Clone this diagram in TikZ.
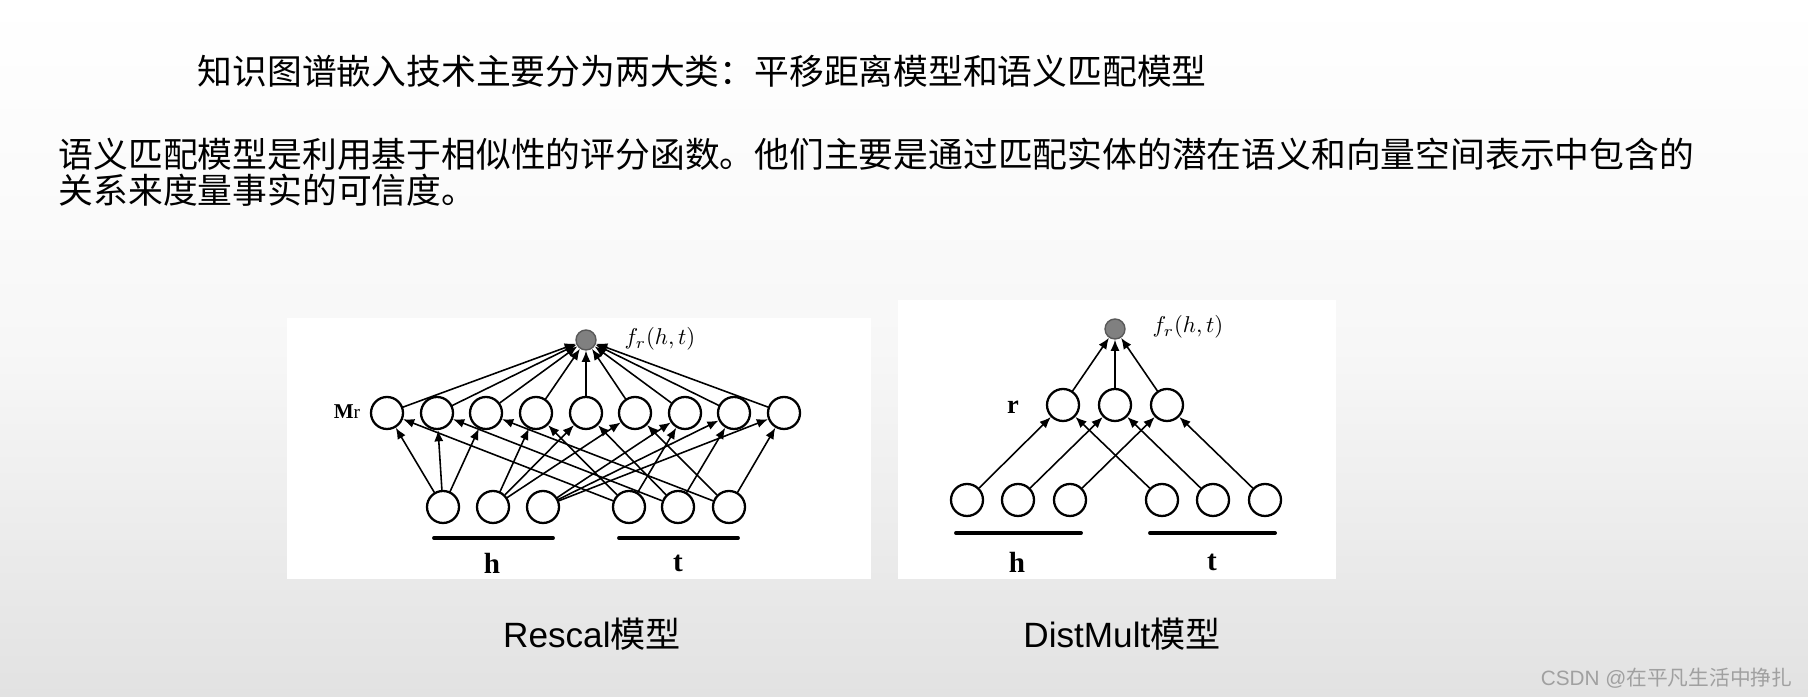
\RequirePackage{fix-cm}
\documentclass[tikz,border=0pt]{standalone}
\usepackage[no-math]{fontspec}
\setmainfont{Liberation Sans}
\newfontfamily\cjk{Noto Sans CJK SC}
\newfontfamily\tnr{Liberation Serif}
\usetikzlibrary{arrows.meta}
\definecolor{bgbot}{RGB}{226,226,226}
\definecolor{bgmid}{RGB}{247,247,247}
\definecolor{marks}{RGB}{160,160,160}
\newcommand{\score}{\scalebox{0.65}{$f_r(h,t)$}}
\tikzset{
	unit/.style={circle, draw, line width=0.65pt, fill=white, minimum size=3.2mm, inner sep=0pt},
	score/.style={circle, draw=black!65, fill=black!50, line width=0.4pt, minimum size=2mm, inner sep=0pt},
	link/.style={->, line width=0.45pt},
	bar/.style={line width=1.1pt},
	txt/.style={inner sep=0pt, font=\cjk\fontsize{9.9}{10.25}\selectfont},
	modelcap/.style={inner sep=0pt, font=\fontsize{10}{12}\selectfont},
	lab/.style={inner sep=0pt, font=\tnr\bfseries\fontsize{8.3}{10}\selectfont},
	fun/.style={anchor=west, inner sep=0pt},
}
\begin{document}
\begin{tikzpicture}[line join=round, line cap=round, >={Latex[length=3.2pt,width=2.6pt]}]
			\useasboundingbox (0,0) rectangle (18.08,6.97);
			\shade[top color=white, bottom color=bgbot, middle color=bgmid] (0,0) rectangle (18.08,6.97);
			\fill[white] (2.87,1.18) rectangle (8.71,3.79);
			\fill[white] (8.98,1.18) rectangle (13.36,3.97);
			% texts
			\node[txt, anchor=west] (title) at (1.97,6.26) {知识图谱嵌入技术主要分为两大类：平移距离模型和语义匹配模型};
			\node[txt, anchor=west, align=left] (intro) at (0.58,5.25) {语义匹配模型是利用基于相似性的评分函数。他们主要是通过匹配实体的潜在语义和向量空间表示中包含的\\关系来度量事实的可信度。};
			\node[modelcap] (capA) at (5.92,0.63) {Rescal{\cjk 模型}};
			\node[modelcap] (capB) at (11.22,0.63) {DistMult{\cjk 模型}};
			\node[anchor=east, inner sep=0pt, text=marks, font=\fontsize{5.9}{7}\selectfont] (mark) at (17.93,0.19) {CSDN @{\cjk 在平凡生活中挣扎}};
			% Rescal
			\node[score] (F) at (5.86,3.57) {};
			\node[fun] (fA) at (6.24,3.58) {\score};
			\node[inner sep=0pt] (Mr) at (3.47,2.85) {{\tnr\bfseries\fontsize{6}{8}\selectfont M}{\tnr\fontsize{5.5}{6}\selectfont r}};
			\node[unit] (M1) at (3.87,2.84) {};
			\node[unit] (M2) at (4.37,2.84) {};
			\node[unit] (M3) at (4.86,2.84) {};
			\node[unit] (M4) at (5.36,2.84) {};
			\node[unit] (M5) at (5.86,2.84) {};
			\node[unit] (M6) at (6.35,2.84) {};
			\node[unit] (M7) at (6.85,2.84) {};
			\node[unit] (M8) at (7.34,2.84) {};
			\node[unit] (M9) at (7.84,2.84) {};
			\node[unit] (H1) at (4.43,1.90) {};
			\node[unit] (H2) at (4.93,1.90) {};
			\node[unit] (H3) at (5.43,1.90) {};
			\node[unit] (T1) at (6.29,1.90) {};
			\node[unit] (T2) at (6.78,1.90) {};
			\node[unit] (T3) at (7.29,1.90) {};
			\coordinate (hA1) at (4.34,1.59);
			\coordinate (hA2) at (5.53,1.59);
			\coordinate (tA1) at (6.19,1.59);
			\coordinate (tA2) at (7.38,1.59);
			\draw[bar] (hA1)--(hA2) (tA1)--(tA2);
			\node[lab] (hA) at (4.92,1.34) {h};
			\node[lab] (tA) at (6.78,1.34) {t};
			\draw[link] (M1) edge (F) (M2) edge (F) (M3) edge (F) (M4) edge (F) (M5) edge (F)
				(M6) edge (F) (M7) edge (F) (M8) edge (F) (M9) edge (F);
			\draw[link] (H1) edge (M1) (H1) edge (M2) (H1) edge (M3);
			\draw[link] (H2) edge (M4) (H2) edge (M5) (H2) edge (M6);
			\draw[link] (H3) edge (M7) (H3) edge (M8) (H3) edge (M9);
			\draw[link] (T1) edge (M1) (T1) edge (M4) (T1) edge (M7);
			\draw[link] (T2) edge (M2) (T2) edge (M5) (T2) edge (M8);
			\draw[link] (T3) edge (M3) (T3) edge (M6) (T3) edge (M9);
			% DistMult
			\node[score] (F') at (11.15,3.68) {};
			\node[fun] (fB) at (11.52,3.70) {\score};
			\node[inner sep=0pt, font=\tnr\bfseries\fontsize{7.5}{9}\selectfont] (r) at (10.13,2.90) {r};
			\node[unit] (R1') at (10.63,2.92) {};
			\node[unit] (R2') at (11.15,2.92) {};
			\node[unit] (R3') at (11.67,2.92) {};
			\node[unit] (H1') at (9.67,1.97) {};
			\node[unit] (H2') at (10.18,1.97) {};
			\node[unit] (H3') at (10.70,1.97) {};
			\node[unit] (T1') at (11.62,1.97) {};
			\node[unit] (T2') at (12.13,1.97) {};
			\node[unit] (T3') at (12.65,1.97) {};
			\coordinate (hB1) at (9.56,1.64);
			\coordinate (hB2) at (10.81,1.64);
			\coordinate (tB1) at (11.50,1.64);
			\coordinate (tB2) at (12.75,1.64);
			\draw[bar] (hB1)--(hB2) (tB1)--(tB2);
			\node[lab] (hB) at (10.17,1.35) {h};
			\node[lab] (tB) at (12.12,1.35) {t};
			\draw[link] (R1') edge (F') (R2') edge (F') (R3') edge (F');
			\draw[link] (H1') edge (R1') (H2') edge (R2') (H3') edge (R3');
			\draw[link] (T1') edge (R1') (T2') edge (R2') (T3') edge (R3');
		\end{tikzpicture}
\end{document}
